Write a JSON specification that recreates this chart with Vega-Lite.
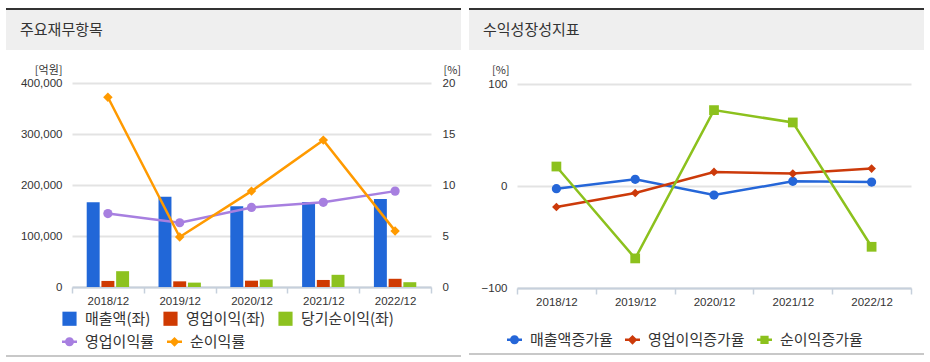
{
  "$schema": "https://vega.github.io/schema/vega-lite/v6.json",
  "background": "white",
  "padding": {"left": 6, "top": 8, "right": 0, "bottom": 0},
  "config": {
    "view": {"stroke": null},
    "font": "Noto Sans CJK KR",
    "axis": {"labelFont": "Liberation Sans", "labelFontSize": 11.5, "labelColor": "#333333", "titleFont": "Noto Sans CJK KR", "titleFontSize": 11, "titleFontWeight": "normal", "titleColor": "#333333", "gridColor": "#e3e3e3", "gridWidth": 2},
    "legend": {"labelFont": "Noto Sans CJK KR", "labelFontSize": 15, "labelColor": "#333333", "labelOffset": 8, "columnPadding": 12, "padding": 0, "symbolStrokeWidth": 0}
  },
  "datasets": {
    "fin": [
      {"year": "2018/12", "series": "매출액(좌)", "value": 166000},
      {"year": "2018/12", "series": "영업이익(좌)", "value": 11900},
      {"year": "2018/12", "series": "당기순이익(좌)", "value": 31000},
      {"year": "2019/12", "series": "매출액(좌)", "value": 177000},
      {"year": "2019/12", "series": "영업이익(좌)", "value": 11100},
      {"year": "2019/12", "series": "당기순이익(좌)", "value": 8600},
      {"year": "2020/12", "series": "매출액(좌)", "value": 158500},
      {"year": "2020/12", "series": "영업이익(좌)", "value": 12400},
      {"year": "2020/12", "series": "당기순이익(좌)", "value": 14800},
      {"year": "2021/12", "series": "매출액(좌)", "value": 166500},
      {"year": "2021/12", "series": "영업이익(좌)", "value": 13800},
      {"year": "2021/12", "series": "당기순이익(좌)", "value": 23900},
      {"year": "2022/12", "series": "매출액(좌)", "value": 172500},
      {"year": "2022/12", "series": "영업이익(좌)", "value": 16100},
      {"year": "2022/12", "series": "당기순이익(좌)", "value": 9400}
    ],
    "ratio": [
      {"year": "2018/12", "series": "영업이익률", "value": 7.2},
      {"year": "2019/12", "series": "영업이익률", "value": 6.3},
      {"year": "2020/12", "series": "영업이익률", "value": 7.8},
      {"year": "2021/12", "series": "영업이익률", "value": 8.3},
      {"year": "2022/12", "series": "영업이익률", "value": 9.4},
      {"year": "2018/12", "series": "순이익률", "value": 18.6},
      {"year": "2019/12", "series": "순이익률", "value": 4.9},
      {"year": "2020/12", "series": "순이익률", "value": 9.4},
      {"year": "2021/12", "series": "순이익률", "value": 14.4},
      {"year": "2022/12", "series": "순이익률", "value": 5.5}
    ],
    "growth": [
      {"year": "2018/12", "series": "매출액증가율", "value": -2.6},
      {"year": "2019/12", "series": "매출액증가율", "value": 6.6},
      {"year": "2020/12", "series": "매출액증가율", "value": -8.9},
      {"year": "2021/12", "series": "매출액증가율", "value": 4.6},
      {"year": "2022/12", "series": "매출액증가율", "value": 3.9},
      {"year": "2018/12", "series": "영업이익증가율", "value": -20.6},
      {"year": "2019/12", "series": "영업이익증가율", "value": -6.9},
      {"year": "2020/12", "series": "영업이익증가율", "value": 13.8},
      {"year": "2021/12", "series": "영업이익증가율", "value": 12.2},
      {"year": "2022/12", "series": "영업이익증가율", "value": 17.1},
      {"year": "2018/12", "series": "순이익증가율", "value": 19.1},
      {"year": "2019/12", "series": "순이익증가율", "value": -71},
      {"year": "2020/12", "series": "순이익증가율", "value": 74.4},
      {"year": "2021/12", "series": "순이익증가율", "value": 62.3},
      {"year": "2022/12", "series": "순이익증가율", "value": -59.6}
    ]
  },
  "spacing": 8,
  "hconcat": [
    {
      "spacing": 14,
      "vconcat": [
        {
          "spacing": 0,
          "vconcat": [
            {"width": 455, "height": 2, "data": {"values": [{}]}, "mark": {"type": "rect", "color": "#333333"}, "encoding": {}},
            {"width": 455, "height": 40, "data": {"values": [{}]}, "mark": {"type": "rect", "color": "#efefef"}, "encoding": {},
             "title": {"text": "주요재무항목", "anchor": "start", "frame": "group", "orient": "top", "offset": -35, "baseline": "middle", "dx": 14, "font": "Noto Sans CJK KR", "fontSize": 15, "fontWeight": "normal", "color": "#333333"}}
          ]
        },
        {
          "spacing": 5,
          "resolve": {"scale": {"color": "independent"}},
          "vconcat": [
            {
              "width": 455, "height": 204,
              "layer": [
                {
                  "data": {"name": "fin"},
                  "mark": {"type": "bar"},
                  "encoding": {
                    "x": {"field": "year", "type": "nominal", "scale": {"domain": ["2018/12", "2019/12", "2020/12", "2021/12", "2022/12"], "range": [66, 425], "paddingInner": 0, "paddingOuter": 0},
                          "axis": {"title": null, "tickBand": "extent", "domainColor": "#c6d0dc", "domainWidth": 2, "tickColor": "#c6d0dc", "tickWidth": 1.5, "tickSize": 6, "labelPadding": 2, "labelAngle": 0, "grid": false}},
                    "xOffset": {"field": "series", "type": "nominal", "scale": {"domain": ["매출액(좌)", "영업이익(좌)", "당기순이익(좌)"], "paddingInner": 0.12, "paddingOuter": 1.09}},
                    "y": {"field": "value", "type": "quantitative", "scale": {"domain": [0, 400000], "nice": false},
                          "axis": {"offset": -66, "title": "[억원]", "titleAngle": 0, "titleAlign": "right", "titleBaseline": "middle", "titleX": -10, "titleY": -13, "values": [0, 100000, 200000, 300000, 400000], "format": ",d", "domain": false, "ticks": false, "labelPadding": 10, "grid": true}},
                    "color": {"field": "series", "type": "nominal", "scale": {"domain": ["매출액(좌)", "영업이익(좌)", "당기순이익(좌)"], "range": ["#2167d8", "#cf3a02", "#8dc21f"]},
                              "legend": {"title": null, "orient": "none", "legendX": 56, "legendY": 228, "direction": "horizontal", "symbolType": "square", "symbolSize": 200, "symbolStrokeWidth": 0}}
                  }
                },
                {
                  "data": {"name": "ratio"},
                  "layer": [
                    {
                      "transform": [{"filter": "datum.series === '영업이익률'"}],
                      "mark": {"type": "line", "strokeWidth": 2.5, "color": "#a77fe0"},
                      "encoding": {
                        "x": {"field": "year", "type": "nominal"},
                        "y": {"field": "value", "type": "quantitative", "scale": {"domain": [0, 20], "nice": false},
                              "axis": {"orient": "right", "offset": -30, "title": "[%]", "titleAngle": 0, "titleAlign": "left", "titleBaseline": "middle", "titleX": 12, "titleY": -13, "values": [0, 5, 10, 15, 20], "domain": false, "ticks": false, "labelPadding": 11, "grid": false}}
                      }
                    },
                    {
                      "transform": [{"filter": "datum.series === '순이익률'"}],
                      "mark": {"type": "line", "strokeWidth": 2.5, "color": "#ff9a00"},
                      "encoding": {
                        "x": {"field": "year", "type": "nominal"},
                        "y": {"field": "value", "type": "quantitative"}
                      }
                    },
                    {
                      "transform": [{"filter": "datum.series === '영업이익률'"}],
                      "mark": {"type": "point", "filled": true, "shape": "circle", "size": 85, "opacity": 1},
                      "encoding": {
                        "x": {"field": "year", "type": "nominal"},
                        "y": {"field": "value", "type": "quantitative"},
                        "color": {"field": "series", "type": "nominal", "scale": {"domain": ["영업이익률", "순이익률"], "range": ["#a77fe0", "#ff9a00"]},
                                  "legend": {"title": null, "orient": "none", "legendX": 56, "legendY": 251, "direction": "horizontal", "symbolSize": 225, "symbolStrokeWidth": 0, "symbolOpacity": 1,
                                             "symbolType": {"expr": "datum.value === '영업이익률' ? 'M-1,-0.18H1V0.18H-1Z M-0.6,0A0.6,0.6,0,1,1,0.6,0A0.6,0.6,0,1,1,-0.6,0Z' : 'M-1,-0.18H1V0.18H-1Z M0,-0.65L0.65,0L0,0.65L-0.65,0Z'"}}}
                      }
                    },
                    {
                      "transform": [{"filter": "datum.series === '순이익률'"}],
                      "mark": {"type": "point", "filled": true, "shape": "diamond", "size": 90, "opacity": 1},
                      "encoding": {
                        "x": {"field": "year", "type": "nominal"},
                        "y": {"field": "value", "type": "quantitative"},
                        "color": {"field": "series", "type": "nominal", "scale": {"domain": ["영업이익률", "순이익률"], "range": ["#a77fe0", "#ff9a00"]},
                                  "legend": {"title": null, "orient": "none", "legendX": 56, "legendY": 251, "direction": "horizontal", "symbolSize": 225, "symbolStrokeWidth": 0, "symbolOpacity": 1,
                                             "symbolType": {"expr": "datum.value === '영업이익률' ? 'M-1,-0.18H1V0.18H-1Z M-0.6,0A0.6,0.6,0,1,1,0.6,0A0.6,0.6,0,1,1,-0.6,0Z' : 'M-1,-0.18H1V0.18H-1Z M0,-0.65L0.65,0L0,0.65L-0.65,0Z'"}}}
                      }
                    }
                  ]
                }
              ],
              "resolve": {"scale": {"y": "independent", "color": "independent"}}
            },
            {"width": 455, "height": 2, "data": {"values": [{}]}, "mark": {"type": "rect", "color": "#c8c8c8"}, "encoding": {}}
          ]
        }
      ]
    },
    {
      "spacing": 14,
      "vconcat": [
        {
          "spacing": 0,
          "vconcat": [
            {"width": 455, "height": 2, "data": {"values": [{}]}, "mark": {"type": "rect", "color": "#333333"}, "encoding": {}},
            {"width": 455, "height": 40, "data": {"values": [{}]}, "mark": {"type": "rect", "color": "#efefef"}, "encoding": {},
             "title": {"text": "수익성장성지표", "anchor": "start", "frame": "group", "orient": "top", "offset": -35, "baseline": "middle", "dx": 14, "font": "Noto Sans CJK KR", "fontSize": 15, "fontWeight": "normal", "color": "#333333"}}
          ]
        },
        {
          "spacing": 5,
          "resolve": {"scale": {"color": "independent"}},
          "vconcat": [
            {
              "width": 455, "height": 204,
              "data": {"name": "growth"},
              "layer": [
                {
                  "transform": [{"filter": "datum.series === '매출액증가율'"}],
                  "mark": {"type": "line", "strokeWidth": 2.5, "color": "#2566d8"},
                  "encoding": {
                    "x": {"field": "year", "type": "nominal", "scale": {"domain": ["2018/12", "2019/12", "2020/12", "2021/12", "2022/12"], "range": [48, 442], "paddingInner": 0, "paddingOuter": 0},
                          "axis": {"title": null, "tickBand": "extent", "domainColor": "#c6d0dc", "domainWidth": 2, "tickColor": "#c6d0dc", "tickWidth": 1.5, "tickSize": 6, "labelPadding": 2, "labelAngle": 0, "grid": false}},
                    "y": {"field": "value", "type": "quantitative", "scale": {"domain": [-100, 100], "nice": false},
                          "axis": {"offset": -48, "title": "[%]", "titleAngle": 0, "titleAlign": "right", "titleBaseline": "middle", "titleX": -8, "titleY": -14, "values": [-100, 0, 100], "domain": false, "ticks": false, "labelPadding": 10, "grid": true}}
                  }
                },
                {
                  "transform": [{"filter": "datum.series === '영업이익증가율'"}],
                  "mark": {"type": "line", "strokeWidth": 2.5, "color": "#cc3a0a"},
                  "encoding": {
                    "x": {"field": "year", "type": "nominal"},
                    "y": {"field": "value", "type": "quantitative"}
                  }
                },
                {
                  "transform": [{"filter": "datum.series === '순이익증가율'"}],
                  "mark": {"type": "line", "strokeWidth": 2.5, "color": "#8cc11d"},
                  "encoding": {
                    "x": {"field": "year", "type": "nominal"},
                    "y": {"field": "value", "type": "quantitative"}
                  }
                },
                {
                  "transform": [{"filter": "datum.series === '매출액증가율'"}],
                  "mark": {"type": "point", "filled": true, "shape": "circle", "size": 85, "opacity": 1},
                  "encoding": {
                    "x": {"field": "year", "type": "nominal"},
                    "y": {"field": "value", "type": "quantitative"},
                    "color": {"field": "series", "type": "nominal", "scale": {"domain": ["매출액증가율", "영업이익증가율", "순이익증가율"], "range": ["#2566d8", "#cc3a0a", "#8cc11d"]},
                              "legend": {"title": null, "orient": "none", "legendX": 38, "legendY": 248, "direction": "horizontal", "symbolSize": 225, "symbolStrokeWidth": 0, "symbolOpacity": 1,
                                         "symbolType": {"expr": "datum.value === '매출액증가율' ? 'M-1,-0.18H1V0.18H-1Z M-0.6,0A0.6,0.6,0,1,1,0.6,0A0.6,0.6,0,1,1,-0.6,0Z' : datum.value === '영업이익증가율' ? 'M-1,-0.18H1V0.18H-1Z M0,-0.65L0.65,0L0,0.65L-0.65,0Z' : 'M-1,-0.18H1V0.18H-1Z M-0.55,-0.55H0.55V0.55H-0.55Z'"}}}
                  }
                },
                {
                  "transform": [{"filter": "datum.series === '영업이익증가율'"}],
                  "mark": {"type": "point", "filled": true, "shape": "diamond", "size": 75, "opacity": 1},
                  "encoding": {
                    "x": {"field": "year", "type": "nominal"},
                    "y": {"field": "value", "type": "quantitative"},
                    "color": {"field": "series", "type": "nominal", "scale": {"domain": ["매출액증가율", "영업이익증가율", "순이익증가율"], "range": ["#2566d8", "#cc3a0a", "#8cc11d"]},
                              "legend": {"title": null, "orient": "none", "legendX": 38, "legendY": 248, "direction": "horizontal", "symbolSize": 225, "symbolStrokeWidth": 0, "symbolOpacity": 1,
                                         "symbolType": {"expr": "datum.value === '매출액증가율' ? 'M-1,-0.18H1V0.18H-1Z M-0.6,0A0.6,0.6,0,1,1,0.6,0A0.6,0.6,0,1,1,-0.6,0Z' : datum.value === '영업이익증가율' ? 'M-1,-0.18H1V0.18H-1Z M0,-0.65L0.65,0L0,0.65L-0.65,0Z' : 'M-1,-0.18H1V0.18H-1Z M-0.55,-0.55H0.55V0.55H-0.55Z'"}}}
                  }
                },
                {
                  "transform": [{"filter": "datum.series === '순이익증가율'"}],
                  "mark": {"type": "point", "filled": true, "shape": "square", "size": 95, "opacity": 1},
                  "encoding": {
                    "x": {"field": "year", "type": "nominal"},
                    "y": {"field": "value", "type": "quantitative"},
                    "color": {"field": "series", "type": "nominal", "scale": {"domain": ["매출액증가율", "영업이익증가율", "순이익증가율"], "range": ["#2566d8", "#cc3a0a", "#8cc11d"]},
                              "legend": {"title": null, "orient": "none", "legendX": 38, "legendY": 248, "direction": "horizontal", "symbolSize": 225, "symbolStrokeWidth": 0, "symbolOpacity": 1,
                                         "symbolType": {"expr": "datum.value === '매출액증가율' ? 'M-1,-0.18H1V0.18H-1Z M-0.6,0A0.6,0.6,0,1,1,0.6,0A0.6,0.6,0,1,1,-0.6,0Z' : datum.value === '영업이익증가율' ? 'M-1,-0.18H1V0.18H-1Z M0,-0.65L0.65,0L0,0.65L-0.65,0Z' : 'M-1,-0.18H1V0.18H-1Z M-0.55,-0.55H0.55V0.55H-0.55Z'"}}}
                  }
                }
              ]
            },
            {"width": 455, "height": 2, "data": {"values": [{}]}, "mark": {"type": "rect", "color": "#c8c8c8"}, "encoding": {}}
          ]
        }
      ]
    }
  ]
}
